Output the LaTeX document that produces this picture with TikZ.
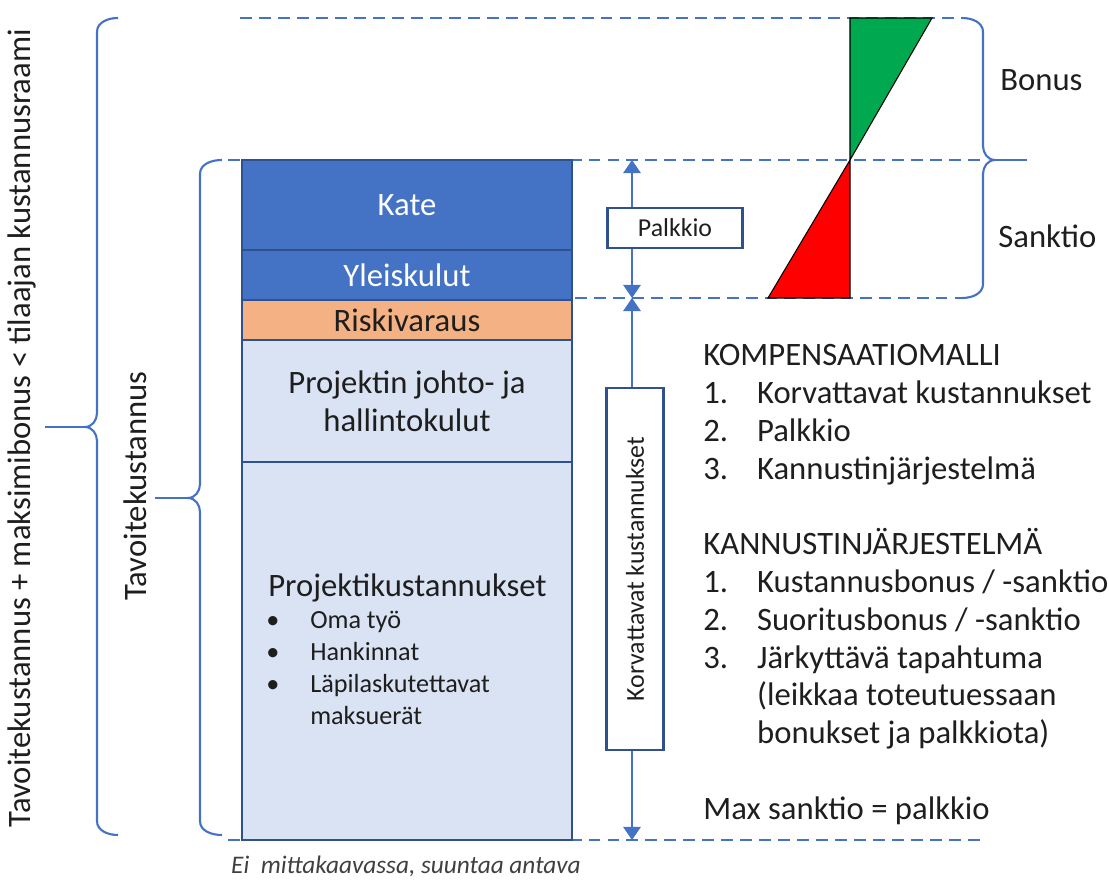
\documentclass[tikz,border=0pt]{standalone}
\usepackage{fontspec}
\setmainfont{Carlito}
\usetikzlibrary{arrows.meta, positioning}

\definecolor{officeblue}{HTML}{4472C4}
\definecolor{edgeblue}{HTML}{2F528F}
\definecolor{lightfill}{HTML}{DAE3F3}
\definecolor{riskfill}{HTML}{F4B183}
\definecolor{bonusgreen}{HTML}{00A94F}
\definecolor{textdark}{HTML}{1E1E1E}

\begin{document}
\begin{tikzpicture}[x=0.02cm, y=-0.02cm,
    costbox/.style={draw=edgeblue, line width=1.1pt, minimum width=6.6cm, inner sep=0pt, align=center, text=textdark, font=\fontsize{18.6}{21.8}\selectfont},
    labelbox/.style={draw=edgeblue, line width=1.3pt, fill=white, inner sep=0pt, text=textdark, font=\fontsize{14.7}{17}\selectfont},
    guide/.style={officeblue, line width=1.2pt, dash pattern=on 6.8pt off 4pt},
    bracket/.style={officeblue, line width=1.2pt},
    dimarrow/.style={{Triangle[width=10pt,length=7.5pt]}-{Triangle[width=10pt,length=7.5pt]}, officeblue, line width=0.9pt},
    bigtext/.style={inner sep=0pt, text=textdark, font=\fontsize{18.6}{21.5}\selectfont}
]
\useasboundingbox (0,0) rectangle (1109,881);

% dashed guide lines
\draw[guide] (240,18) -- (962,18);
\draw[guide] (228,160) -- (983,160);
\draw[guide] (575,298) -- (962,298);
\draw[guide] (228,840) -- (985,840);

% cost stack
\node[costbox, fill=officeblue, text=white, minimum height=1.8cm] (kate) at (407,205) {Kate};
\node[costbox, fill=officeblue, text=white, minimum height=1cm] (yleis) at (407,275) {Yleiskulut};
\node[costbox, fill=riskfill, minimum height=0.8cm] (riski) at (407,320) {Riskivaraus};
\node[costbox, fill=lightfill, minimum height=2.44cm] (johto) at (407,401) {Projektin johto- ja\\hallintokulut};
\node[costbox, fill=lightfill, minimum height=7.56cm] (projbox) at (407,651) {};
\node[bigtext, anchor=west] (projhead) at (268,588) {Projektikustannukset};
\node[inner sep=0pt, anchor=north west, text=textdark, font=\fontsize{14.9}{18.1}\selectfont] (projlist) at (266,606) {%
  \begin{tabular}{@{}p{25pt}@{}l@{}}
  \textbullet & Oma työ\\
  \textbullet & Hankinnat\\
  \textbullet & Läpilaskutettavat\\
              & maksuerät
  \end{tabular}};

% fee and reimbursable arrows
\coordinate (payt) at (632,160);
\coordinate (paym) at (632,298);
\coordinate (payb) at (632,840);
\draw[dimarrow] (payt) -- (paym);
\draw[dimarrow] (paym) -- (payb);
\node[labelbox, minimum width=2.7cm, minimum height=0.8cm] (palkkio) at (675,228) {Palkkio};
\node[labelbox, rotate=90, minimum width=7.24cm, minimum height=1.14cm] (korv) at (635,569) {Korvattavat kustannukset};

% bonus / sanction wedges
\filldraw[fill=bonusgreen, draw=black, line width=0.6pt] (850,18) -- (932,18) -- (850,160) -- cycle;
\filldraw[fill=red, draw=black, line width=0.6pt] (850,160) -- (850,298) -- (768,298) -- cycle;

% braces
\draw[bracket] (118,18) to[out=180,in=90] (97,32) -- (97,413) to[out=-90,in=0] (85,427)
    to[out=0,in=90] (97,441) -- (97,821) to[out=-90,in=180] (118,835);
\draw[bracket] (85,427) -- (45,427);
\draw[bracket] (222,160) to[out=180,in=90] (200,174) -- (200,484) to[out=-90,in=0] (188,498)
    to[out=0,in=90] (200,512) -- (200,821) to[out=-90,in=180] (222,835);
\draw[bracket] (188,498) -- (155,498);
\draw[bracket] (962,18) to[out=0,in=90] (983,32) -- (983,146) to[out=-90,in=180] (995,160)
    to[out=180,in=90] (983,174) -- (983,284) to[out=-90,in=0] (962,298);
\draw[bracket] (995,160) -- (1027,160);

\node[bigtext, rotate=90] (outerlbl) at (22,428) {Tavoitekustannus + maksimibonus < tilaajan kustannusraami};
\node[bigtext, rotate=90] (innerlbl) at (135,486) {Tavoitekustannus};
\node[bigtext, anchor=west] (bonus) at (1000,80) {Bonus};
\node[bigtext, anchor=west] (sanktio) at (998,236) {Sanktio};

% compensation model text
\node[bigtext, anchor=west] (malli) at (703,585) {%
  \begin{tabular}{@{}p{30.6pt}@{}l@{}}
  \multicolumn{2}{@{}l@{}}{KOMPENSAATIOMALLI}\\
  1. & Korvattavat kustannukset\\
  2. & Palkkio\\
  3. & Kannustinjärjestelmä\\
  & \\
  \multicolumn{2}{@{}l@{}}{KANNUSTINJÄRJESTELMÄ}\\
  1. & Kustannusbonus / -sanktio\\
  2. & Suoritusbonus / -sanktio\\
  3. & Järkyttävä tapahtuma\\
     & (leikkaa toteutuessaan\\
     & bonukset ja palkkiota)\\
  & \\
  \multicolumn{2}{@{}l@{}}{Max sanktio = palkkio}
  \end{tabular}};

\node[inner sep=0pt, text=textdark!85, font=\fontsize{14.4}{16}\selectfont\itshape] (note) at (406,866) {Ei\ \ mittakaavassa, suuntaa antava};
\end{tikzpicture}
\end{document}
